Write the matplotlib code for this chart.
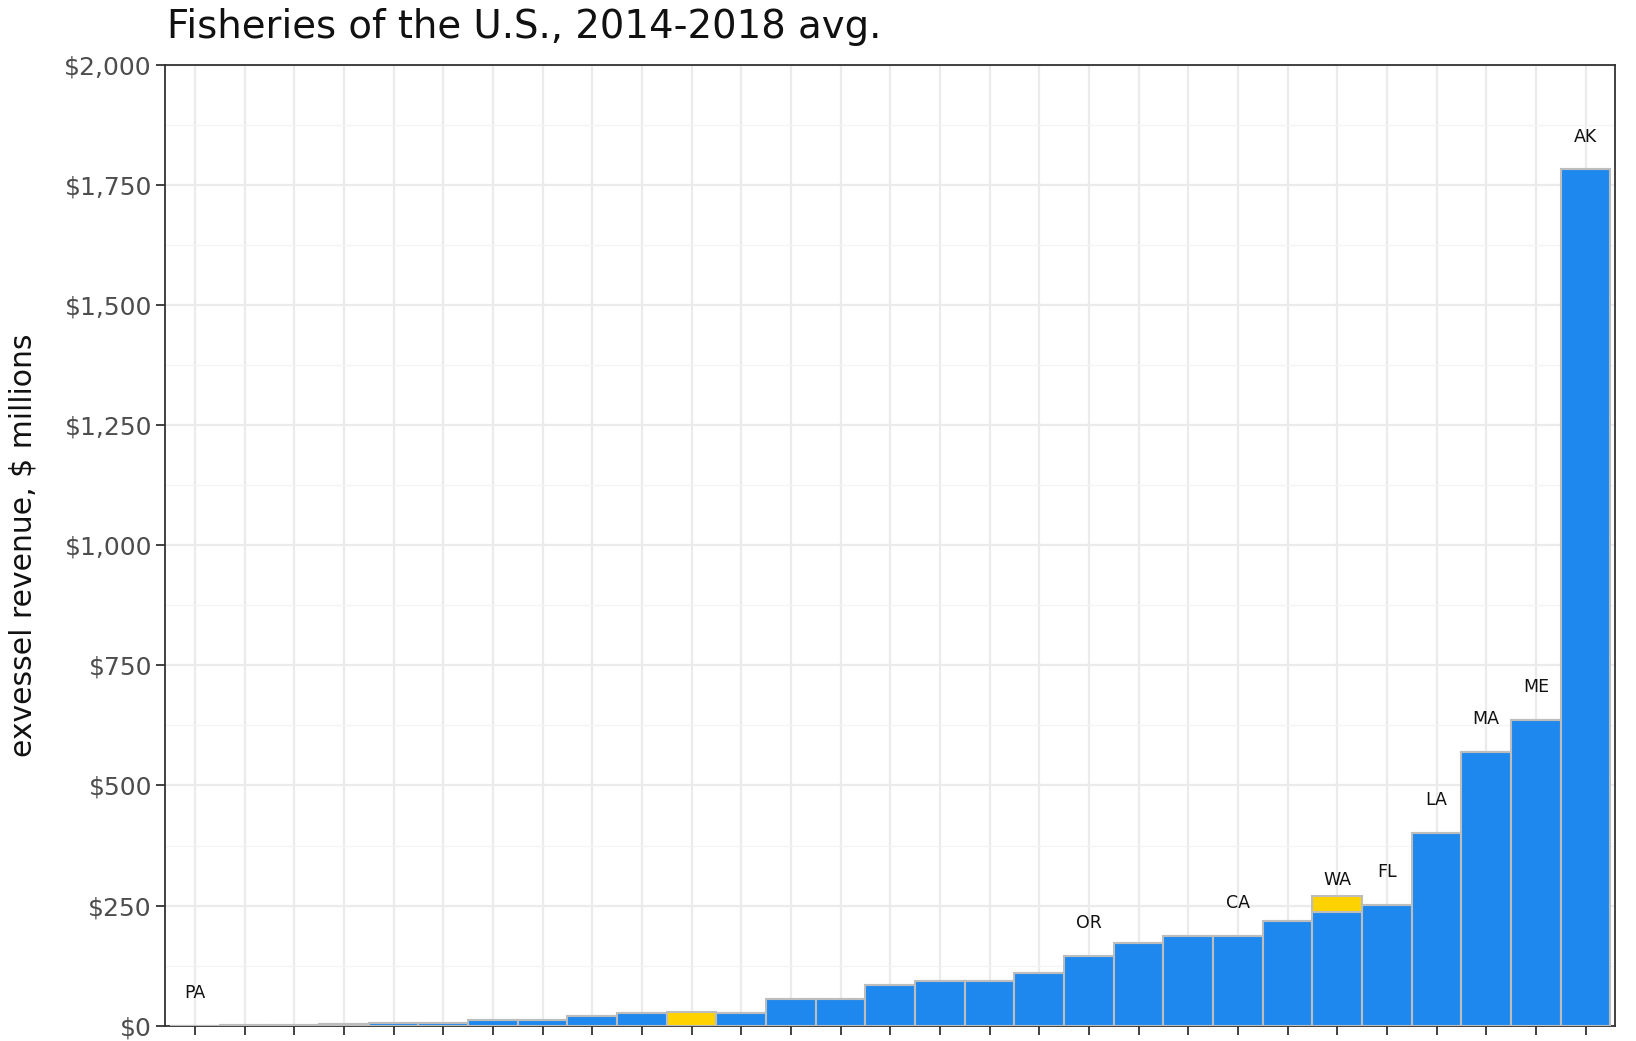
import matplotlib
matplotlib.use("Agg")
import matplotlib.pyplot as plt
from matplotlib.ticker import MultipleLocator, FuncFormatter

# valeurs ($ millions), triées de la plus petite à la plus grande
etats = ["PA", "", "", "", "", "", "", "", "", "", "", "", "", "", "", "",
         "", "", "OR", "", "", "CA", "", "WA", "FL", "LA", "MA", "ME", "AK"]
revenu_bleu = [0.3, 0.5, 1.5, 2.5, 5, 6, 11, 11, 20, 26, 0, 27, 55, 55, 84, 93,
               94, 110, 145, 172, 187, 187, 218, 236, 252, 402, 570, 636, 1782]
revenu_jaune = [0, 0, 0, 0, 0, 0, 0, 0, 0, 0, 28, 0, 0, 0, 0, 0,
                0, 0, 0, 0, 0, 0, 0, 34, 0, 0, 0, 0, 0]

titre = "Fisheries of the U.S., 2014-2018 avg."
label_y = "exvessel revenue, $ millions"

bleu = "#1E88EE"
jaune = "#FFD200"
bord = "#BDBDBD"

fig = plt.figure(figsize=(16.36, 10.41), dpi=100)
ax = fig.add_axes([0.1009, 0.0147, 0.8865, 0.9231])

x = list(range(len(etats)))
ax.bar(x, revenu_bleu, width=1.0, color=bleu, edgecolor=bord, linewidth=1.5, zorder=3)
ax.bar(x, revenu_jaune, width=1.0, bottom=revenu_bleu, color=jaune,
       edgecolor=bord, linewidth=1.5, zorder=3)

# étiquettes des états au-dessus des barres
for xi, nom, v in zip(x, etats, revenu_bleu):
    if nom:
        ax.text(xi, v + 68, nom, ha="center", va="center", fontsize=12.5,
                color="#111111", zorder=4)

ax.set_xlim(-0.6, len(etats) - 0.4)
ax.set_ylim(0, 2000)
ax.set_xticks(x)
ax.set_xticklabels([])
ax.yaxis.set_major_locator(MultipleLocator(250))
ax.yaxis.set_minor_locator(MultipleLocator(125))
ax.yaxis.set_major_formatter(FuncFormatter(lambda v, p: f"${v:,.0f}"))

ax.grid(which="major", color="#EBEBEB", linewidth=1.6, zorder=0)
ax.grid(which="minor", axis="y", color="#F4F4F4", linewidth=0.9, zorder=0)
ax.tick_params(axis="both", which="major", length=6.5, width=1.3, color="#333333",
               labelsize=18, labelcolor="#4D4D4D", pad=3)
ax.tick_params(axis="y", which="minor", length=0)
for s in ax.spines.values():
    s.set_color("#333333")
    s.set_linewidth(1.3)

ax.set_ylabel(label_y, fontsize=21.5, color="#111111")
ax.yaxis.set_label_coords(-0.088, 0.5)

fig.text(167 / 1636, 1 - 38 / 1041, titre, fontsize=27.8, ha="left", va="baseline",
         color="#111111")

fig.savefig("out.png", dpi=100)
